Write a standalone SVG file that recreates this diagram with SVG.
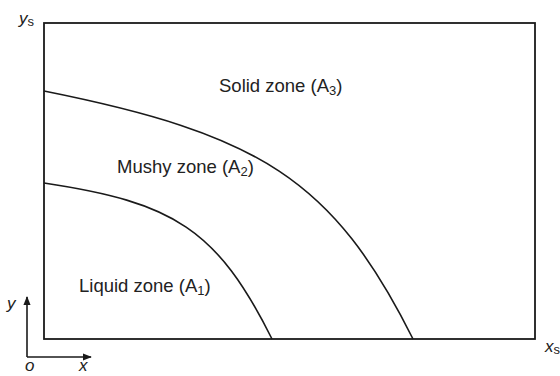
<svg xmlns="http://www.w3.org/2000/svg" width="560" height="376" viewBox="0 0 560 376">
<defs>
<style>
.t{font-family:"Liberation Sans",Arial,sans-serif;font-size:18.5px;fill:#222}
.ax{font-family:"Liberation Sans",Arial,sans-serif;font-style:italic;font-size:17px;fill:#222}
.sub{font-size:13px;font-style:normal}
.ln{fill:none;stroke:#1a1a1a;stroke-width:1.6}
</style>
<marker id="ah" viewBox="0 0 10 10" refX="9" refY="5" markerWidth="9" markerHeight="9" markerUnits="userSpaceOnUse" orient="auto">
<path d="M0,1 L10,5 L0,9 z" fill="#1a1a1a"/>
</marker>
</defs>
<g id="boundary">
<rect x="44" y="23" width="491" height="316" fill="#fff" stroke="#1a1a1a" stroke-width="1.8"/>
</g>
<g id="connectors">
<path id="solidus" class="ln" d="M44,91 C259,134 333,179 413,339"/>
<path id="liquidus" class="ln" d="M44,183 C174,202.5 217,229 272,339"/>
<line class="ln" x1="27" y1="357" x2="27" y2="297" stroke-width="1.3" marker-end="url(#ah)"/>
<line class="ln" x1="27" y1="357" x2="91" y2="357" stroke-width="1.3" marker-end="url(#ah)"/>
</g>
<g id="solid-zone"><text class="t" x="219" y="92">Solid zone (A<tspan class="sub" dy="3">3</tspan><tspan dy="-3">)</tspan></text></g>
<g id="mushy-zone"><text class="t" x="117" y="173">Mushy zone (A<tspan class="sub" dy="3">2</tspan><tspan dy="-3">)</tspan></text></g>
<g id="liquid-zone"><text class="t" x="79" y="292">Liquid zone (A<tspan class="sub" dy="3">1</tspan><tspan dy="-3">)</tspan></text></g>
<g id="labels">
<text class="ax" x="19" y="24">y<tspan class="sub" dy="2">s</tspan></text>
<text class="ax" x="545" y="352">x<tspan class="sub" dy="2">s</tspan></text>
<text class="ax" x="7" y="309">y</text>
<text class="ax" x="25" y="371">o</text>
<text class="ax" x="79" y="371">x</text>
</g>
</svg>
